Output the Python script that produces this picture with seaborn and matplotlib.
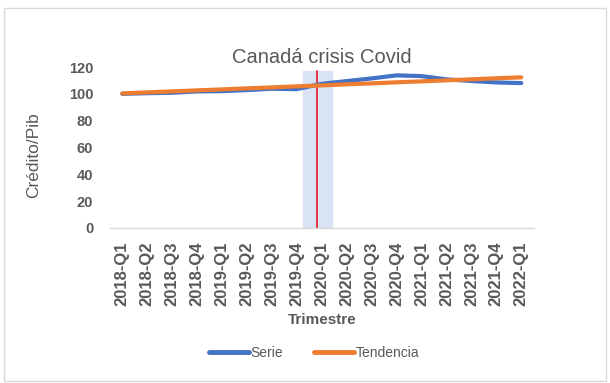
import pandas as pd
import numpy as np
import seaborn as sns
import matplotlib.pyplot as plt
from matplotlib.patches import Rectangle

quarters = ["2018-Q1", "2018-Q2", "2018-Q3", "2018-Q4",
            "2019-Q1", "2019-Q2", "2019-Q3", "2019-Q4",
            "2020-Q1", "2020-Q2", "2020-Q3", "2020-Q4",
            "2021-Q1", "2021-Q2", "2021-Q3", "2021-Q4",
            "2022-Q1"]
serie = [100.0, 100.5, 100.8, 101.8, 102.0, 102.8, 103.8, 103.5,
         107.5, 109.5, 111.5, 113.8, 113.2, 110.8, 109.6, 108.5, 108.0]
tendencia = [100.3, 101.1, 101.8, 102.6, 103.3, 104.1, 104.8, 105.6,
             106.3, 107.1, 107.8, 108.6, 109.3, 110.1, 110.8, 111.6, 112.3]
series_names = ["Serie", "Tendencia"]
colors = ["#4472C4", "#ED7D31"]
y_ticks = [0, 20, 40, 60, 80, 100, 120]

df = pd.DataFrame({"Trimestre": quarters * 2,
                   "pos": list(range(len(quarters))) * 2,
                   "valor": serie + tendencia,
                   "serie": [series_names[0]] * len(quarters) + [series_names[1]] * len(quarters)})

sns.set_style("white")
plt.rcParams["font.family"] = ["Liberation Sans", "DejaVu Sans"]
grey = "#595959"

fig = plt.figure(figsize=(6.1, 3.83), dpi=100)
ax = fig.add_axes([0.180, 0.405, 0.695, 0.420])

# crisis band + marker
ax.axvspan(7.26, 8.40, ymax=117 / 120, color="#DAE3F3", zorder=0)
ax.axvline(7.82, ymax=117 / 120, color="#E8262E", lw=1.3, zorder=1)

sns.lineplot(data=df, x="pos", y="valor", hue="serie", palette=colors,
             linewidth=3.0, ax=ax, legend=False, zorder=3)

ax.set_xlim(-0.5, len(quarters) - 0.5)
ax.set_ylim(0, 120)
ax.set_yticks(y_ticks)
ax.set_yticklabels([str(v) for v in y_ticks], fontsize=10.5, fontweight="bold", color=grey)
ax.set_xticks(range(len(quarters)))
ax.set_xticklabels(quarters, rotation=90, fontsize=12, fontweight="bold", color=grey)
ax.tick_params(axis="y", length=0, pad=12)
ax.tick_params(axis="x", length=0, pad=10)
for s in ["top", "right", "left"]:
    ax.spines[s].set_visible(False)
ax.spines["bottom"].set_color("#D9D9D9")
ax.spines["bottom"].set_linewidth(1.0)

ax.set_xlabel("Trimestre", fontsize=11, fontweight="bold", color=grey, labelpad=5)
ax.set_ylabel("Crédito/Pib", fontsize=12.5, color=grey)
ax.yaxis.set_label_coords(-0.163, 0.453)
ax.set_title("Canadá crisis Covid", fontsize=14.5, color=grey, pad=3)

handles = [plt.Line2D([], [], color=c, lw=3.5) for c in colors]
leg = fig.legend(handles, series_names, loc="center", bbox_to_anchor=(0.515, 0.078),
                 ncol=2, frameon=False, fontsize=10, handlelength=2.9,
                 handletextpad=0.1, columnspacing=2.2)
for t in leg.get_texts():
    t.set_color(grey)

fig.patches.append(Rectangle((0.006, 0.005), 0.988, 0.975, transform=fig.transFigure,
                             fill=False, edgecolor="#D9D9D9", lw=1.0))

fig.savefig("out.png", dpi=100)
